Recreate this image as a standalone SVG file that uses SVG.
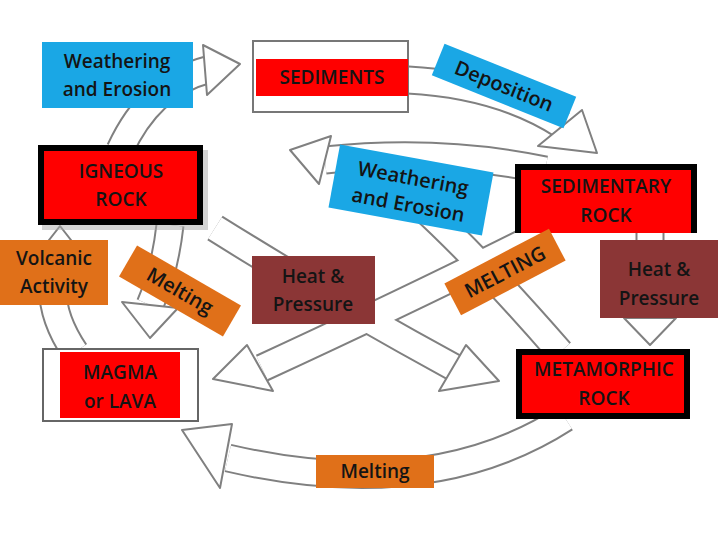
<svg xmlns="http://www.w3.org/2000/svg" width="720" height="540" viewBox="0 0 720 540">
<style>
.sh{fill:none;stroke:#808080;stroke-width:29}
.sf{fill:none;stroke:#fff;stroke-width:25}
.hd{fill:#fff;stroke:#808080;stroke-width:2;stroke-linejoin:round}
.t{font-family:"Open Sans","Liberation Sans",sans-serif;font-weight:600;fill:#141414;text-anchor:middle}
.b{font-size:19px}
.blue{fill:#1aa7e5}.red{fill:#ff0000}.org{fill:#e07019}.brn{fill:#8b3636}
</style>
<rect width="720" height="540" fill="#fff"/>
<g id="connectors">
<path class="sh" d="M120,150 Q150,85 207,70"/>
<path class="sh" d="M408,80 Q500,85 562,125"/>
<path class="sh" d="M545,170 Q440,148 325,160"/>
<path class="sh" d="M560,352 Q480,260 420,205"/>
<path class="sh" d="M650,232 L650,320"/>
<path class="sh" d="M565,418 Q430,505 228,458"/>
<path class="sh" d="M75,352 Q40,300 60,256"/>
<path class="sh" d="M170,225 Q165,270 150,305"/>
<path class="sh" d="M545,232 Q420,295 262,368"/>
<path class="sh" d="M215,228 Q330,300 455,368"/>
<path class="sf" d="M120,150 Q150,85 207,70"/>
<path class="sf" d="M408,80 Q500,85 562,125"/>
<path class="sf" d="M545,170 Q440,148 325,160"/>
<path class="sf" d="M560,352 Q480,260 420,205"/>
<path class="sf" d="M650,232 L650,320"/>
<path class="sf" d="M565,418 Q430,505 228,458"/>
<path class="sf" d="M75,352 Q40,300 60,256"/>
<path class="sf" d="M170,225 Q165,270 150,305"/>
<path class="sf" d="M545,232 Q420,295 262,368"/>
<path class="sf" d="M215,228 Q330,300 455,368"/>
<polygon class="hd" points="207,95 240,64 203,45"/>
<polygon class="hd" points="538,146 582,110 597,153"/>
<polygon class="hd" points="331,136 290,150 319,184"/>
<polygon class="hd" points="624,318 676,318 650,345"/>
<polygon class="hd" points="232,424 182,430 220,488"/>
<polygon class="hd" points="35,258 85,258 60,226"/>
<polygon class="hd" points="122,302 178,308 150,338"/>
<polygon class="hd" points="247,345 213,379 273,391"/>
<polygon class="hd" points="466,345 499,381 439,391"/>
</g>
<g id="weathering-top"><rect class="blue" x="42" y="42" width="151" height="66"/><text class="t b" x="117" y="68">Weathering</text><text class="t b" x="117" y="96">and Erosion</text></g>
<g id="sediments"><rect x="253" y="41" width="155" height="71" fill="#fff" stroke="#777" stroke-width="2"/><rect class="red" x="256" y="59" width="152" height="37"/><text class="t b" x="332" y="84">SEDIMENTS</text></g>
<g id="deposition" transform="translate(504,86) rotate(22)"><rect class="blue" x="-71" y="-17" width="142" height="34"/><text class="t" font-size="20" x="0" y="7">Deposition</text></g>
<g id="igneous"><rect x="42" y="150" width="166" height="80" fill="#aaa" opacity="0.5"/><rect x="38" y="145" width="165" height="80" fill="#000"/><rect class="red" x="44" y="151" width="153" height="68"/><text class="t b" x="121" y="178">IGNEOUS</text><text class="t b" x="121" y="206">ROCK</text></g>
<g id="weathering-mid" transform="translate(411,190) rotate(10.4)"><rect class="blue" x="-78" y="-32" width="156" height="64"/><text class="t" font-size="20" x="0" y="-5">Weathering</text><text class="t" font-size="20" x="0" y="22">and Erosion</text></g>
<g id="sedimentary"><rect x="515" y="164" width="182" height="69" fill="#000"/><rect class="red" x="521" y="170" width="170" height="63"/><text class="t b" x="606" y="193">SEDIMENTARY</text><text class="t b" x="606" y="222">ROCK</text></g>
<g id="volcanic"><rect class="org" x="0" y="240" width="108" height="65"/><text class="t b" x="54" y="265">Volcanic</text><text class="t b" x="54" y="293">Activity</text></g>
<g id="melting-left" transform="translate(180,291) rotate(30)"><rect class="org" x="-60" y="-18" width="120" height="36"/><text class="t" font-size="20" x="0" y="7">Melting</text></g>
<g id="heat-left"><rect class="brn" x="252" y="256" width="123" height="68"/><text class="t b" x="313" y="283">Heat &amp;</text><text class="t b" x="313" y="311">Pressure</text></g>
<g id="melting-mid" transform="translate(505,272) rotate(-27.6)"><rect class="org" x="-59" y="-18" width="118" height="36"/><text class="t" font-size="20" x="0" y="7">MELTING</text></g>
<g id="heat-right"><rect class="brn" x="600" y="240" width="118" height="78"/><text class="t b" x="659" y="276">Heat &amp;</text><text class="t b" x="659" y="305">Pressure</text></g>
<g id="magma"><rect x="43" y="349" width="155" height="72" fill="#fff" stroke="#666" stroke-width="2"/><rect class="red" x="60" y="352" width="120" height="66"/><text class="t b" x="120" y="379">MAGMA</text><text class="t b" x="120" y="408">or LAVA</text></g>
<g id="metamorphic"><rect x="516" y="349" width="174" height="70" fill="#000"/><rect class="red" x="522" y="355" width="162" height="58"/><text class="t b" x="604" y="376">METAMORPHIC</text><text class="t b" x="604" y="405">ROCK</text></g>
<g id="melting-bottom"><rect class="org" x="316" y="455" width="118" height="33"/><text class="t b" x="375" y="478">Melting</text></g>
</svg>
